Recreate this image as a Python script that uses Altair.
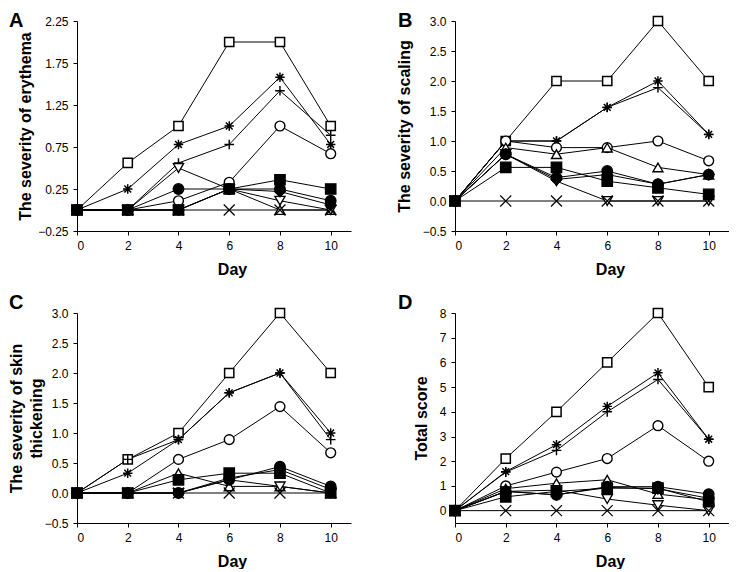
import altair as alt
import pandas as pd

DAYS = [0, 2, 4, 6, 8, 10]
DAY_TICKS = [0, 2, 4, 6, 8, 10]

SERIES = ["open square", "asterisk", "plus", "open circle", "open triangle",
          "open inverted triangle", "filled square", "filled circle",
          "filled diamond", "cross"]

SHAPES = ["square",
          "M-1,0H1M0,-1V1M-0.72,-0.72L0.72,0.72M-0.72,0.72L0.72,-0.72",
          "M-1,0H1M0,-1V1",
          "circle", "triangle-up", "triangle-down", "square", "circle", "diamond",
          "M-1,-1L1,1M-1,1L1,-1"]
FILLS = ["white", "white", "white", "white", "white", "white",
         "black", "black", "black", "white"]
SIZES = [85, 120, 120, 80, 95, 95, 70, 70, 85, 45]
STROKES = [1.5, 1.2, 1.8, 1.5, 1.5, 1.5, 1, 1, 1, 2]

# Panel A: erythema (one list per series, in SERIES order)
erythema = [
    [0, 0.56, 1.00, 2.00, 2.00, 1.00],
    [0, 0.25, 0.78, 1.00, 1.58, 0.78],
    [0, 0.00, 0.56, 0.78, 1.42, 0.89],
    [0, 0.00, 0.11, 0.33, 1.00, 0.67],
    [0, 0.00, 0.00, 0.25, 0.00, 0.00],
    [0, 0.00, 0.50, 0.25, 0.11, 0.00],
    [0, 0.00, 0.00, 0.25, 0.36, 0.25],
    [0, 0.00, 0.25, 0.25, 0.25, 0.11],
    [0, 0.00, 0.00, 0.25, 0.22, 0.06],
    [0, 0.00, 0.00, 0.00, 0.00, 0.00],
]
# Panel B: scaling
scaling = [
    [0, 1.00, 2.00, 2.00, 3.00, 2.00],
    [0, 1.00, 1.00, 1.56, 2.00, 1.11],
    [0, 1.00, 1.00, 1.56, 1.89, 1.11],
    [0, 1.00, 0.89, 0.89, 1.00, 0.67],
    [0, 0.89, 0.78, 0.89, 0.56, 0.44],
    [0, 0.78, 0.33, 0.00, 0.00, 0.00],
    [0, 0.56, 0.56, 0.33, 0.22, 0.11],
    [0, 0.78, 0.39, 0.50, 0.28, 0.44],
    [0, 0.78, 0.36, 0.44, 0.28, 0.44],
    [0, 0.00, 0.00, 0.00, 0.00, 0.00],
]
# Panel C: skin thickening
thickening = [
    [0, 0.56, 1.00, 2.00, 3.00, 2.00],
    [0, 0.33, 0.89, 1.67, 2.00, 1.00],
    [0, 0.56, 0.89, 1.67, 2.00, 0.89],
    [0, 0.00, 0.56, 0.89, 1.44, 0.67],
    [0, 0.00, 0.33, 0.11, 0.11, 0.00],
    [0, 0.00, 0.00, 0.22, 0.11, 0.00],
    [0, 0.00, 0.22, 0.33, 0.33, 0.00],
    [0, 0.00, 0.00, 0.22, 0.44, 0.11],
    [0, 0.00, 0.00, 0.25, 0.39, 0.06],
    [0, 0.00, 0.00, 0.00, 0.00, 0.00],
]
# Panel D: total score
total = [
    [0, 2.11, 4.00, 6.00, 8.00, 5.00],
    [0, 1.58, 2.67, 4.22, 5.58, 2.89],
    [0, 1.56, 2.44, 4.00, 5.31, 2.89],
    [0, 1.00, 1.56, 2.11, 3.44, 2.00],
    [0, 0.89, 1.11, 1.25, 0.67, 0.44],
    [0, 0.78, 0.83, 0.47, 0.22, 0.00],
    [0, 0.56, 0.78, 0.91, 0.91, 0.36],
    [0, 0.78, 0.64, 0.97, 0.97, 0.67],
    [0, 0.78, 0.64, 0.94, 0.89, 0.50],
    [0, 0.00, 0.00, 0.00, 0.00, 0.00],
]

FONT = "Liberation Sans"


def panel(values, letter, ytitle, ydomain, yticks, yfmt, letter_dx,
          letter_dy, ytitle_pad, line_h=22):
    rows = []
    for i, (name, ys) in enumerate(zip(SERIES, values)):
        for d, v in zip(DAYS, ys):
            rows.append({"series": name, "order": i, "day": d, "value": v})
    df = pd.DataFrame(rows)
    x = alt.X("day:Q",
              scale=alt.Scale(domain=[0, 10.8], nice=False, zero=False),
              axis=alt.Axis(values=DAY_TICKS, title="Day", titleX=155,
                            titlePadding=10, format="d"))
    y = alt.Y("value:Q",
              scale=alt.Scale(domain=ydomain, nice=False, zero=False),
              axis=alt.Axis(values=yticks, format=yfmt, title=ytitle,
                            titlePadding=ytitle_pad, titleLineHeight=line_h))
    base = alt.Chart(df)
    lines = base.mark_line(color="black", strokeWidth=1, clip=False).encode(
        x=x, y=y, detail="series:N", order="day:Q")
    pts = base.mark_point(filled=True, stroke="black", opacity=1,
                          clip=False).encode(
        x=x, y=y,
        shape=alt.Shape("series:N", scale=alt.Scale(domain=SERIES, range=SHAPES),
                        legend=None),
        fill=alt.Fill("series:N", scale=alt.Scale(domain=SERIES, range=FILLS),
                      legend=None),
        size=alt.Size("series:N", scale=alt.Scale(domain=SERIES, range=SIZES),
                      legend=None),
        strokeWidth=alt.StrokeWidth("series:N",
                                    scale=alt.Scale(domain=SERIES, range=STROKES),
                                    legend=None),
        order="order:Q",
    )
    tag = alt.Chart(pd.DataFrame({"label": [letter]})).mark_text(
        align="left", baseline="alphabetic", fontSize=20, fontWeight="bold",
        font=FONT, color="black").encode(
        text="label:N", x=alt.value(letter_dx), y=alt.value(letter_dy))
    return alt.layer(lines, pts, tag).properties(width=274, height=210)


pa = panel(erythema, "A", "The severity of erythema", [-0.25, 2.25],
           [-0.25, 0.25, 0.75, 1.25, 1.75, 2.25], ".2f", -68, 6, 4)
pb = panel(scaling, "B", "The severity of scaling", [-0.5, 3.0],
           [-0.5, 0, 0.5, 1.0, 1.5, 2.0, 2.5, 3.0], ".1f", -57, 6, 10)
pc = panel(thickening, "C", ["The severity of skin", "thickening"], [-0.5, 3.0],
           [-0.5, 0, 0.5, 1.0, 1.5, 2.0, 2.5, 3.0], ".1f", -68, -4, 0, 20)
pd_ = panel(total, "D", "Total score", [-0.5, 8],
            [0, 1, 2, 3, 4, 5, 6, 7, 8], "d", -57, -4, 10)

chart = alt.concat(pa, pb, pc, pd_, columns=2,
                   spacing={"row": 16, "column": 45}).properties(
    padding={"top": 3, "left": 0, "right": 0, "bottom": 0}
).configure_view(strokeWidth=0).configure_axis(
    labelFont=FONT, labelFontSize=12, labelColor="black",
    titleFont=FONT, titleFontSize=16, titleFontWeight="bold", titleColor="black",
    domainColor="black", domainWidth=1, tickColor="black", tickSize=4,
    tickWidth=1, labelPadding=5, grid=False,
)

chart.save("out.html", embed_options={"renderer": "svg", "actions": False})
